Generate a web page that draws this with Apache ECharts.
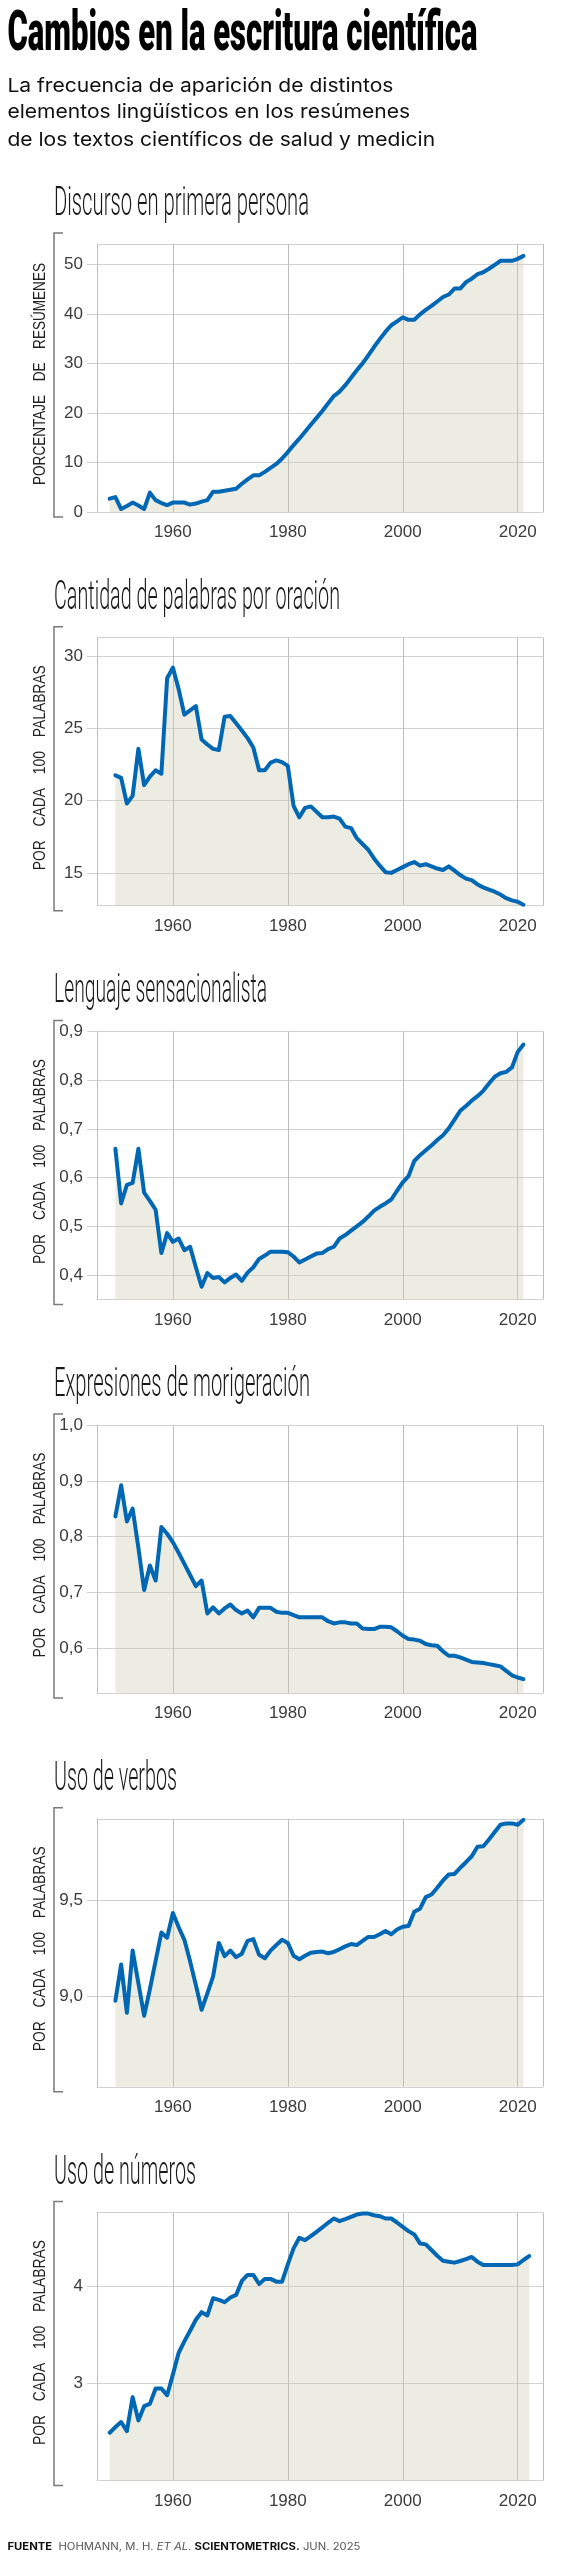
<!DOCTYPE html>
<html>
<head>
<meta charset="utf-8">
<script src="https://cdn.jsdelivr.net/npm/echarts@6.0.0/dist/echarts.min.js"></script>
<style>
html,body{margin:0;padding:0;background:#ffffff;}
#chart{width:579px;height:2560px;}
</style>
</head>
<body>
<div id="chart"></div>
<script>
// ---------- DATA ----------
const YEARS = [1949,1950,1951,1952,1953,1954,1955,1956,1957,1958,1959,
  1960,1961,1962,1963,1964,1965,1966,1967,1968,1969,
  1970,1971,1972,1973,1974,1975,1976,1977,1978,1979,
  1980,1981,1982,1983,1984,1985,1986,1987,1988,1989,
  1990,1991,1992,1993,1994,1995,1996,1997,1998,1999,
  2000,2001,2002,2003,2004,2005,2006,2007,2008,2009,
  2010,2011,2012,2013,2014,2015,2016,2017,2018,2019,
  2020,2021,2022];
const yearsFrom1949to2021 = YEARS.slice(0, 73);
const yearsFrom1950to2021 = YEARS.slice(1, 73);
const yearsFrom1949to2022 = YEARS.slice(0, 74);

const X_TICKS = ['1960','1980','2000','2020'];

// % of abstracts with first-person discourse (1949-2021)
const primeraPersona = [2.7,3.0,0.6,1.2,1.9,1.3,0.6,3.9,2.4,1.8,1.4,
  1.9,1.9,1.9,1.5,1.7,2.1,2.4,4.1,4.1,4.3,
  4.5,4.7,5.7,6.6,7.4,7.4,8.1,8.9,9.7,10.8,
  12.1,13.5,14.8,16.2,17.6,19.0,20.4,21.9,23.4,24.3,
  25.6,27.1,28.6,30.0,31.6,33.3,34.9,36.4,37.7,38.5,
  39.3,38.8,38.8,39.9,40.8,41.6,42.5,43.4,43.9,45.1,
  45.1,46.4,47.1,48.0,48.4,49.1,49.9,50.7,50.7,50.7,
  51.1,51.7];

// words per sentence (1950-2021)
const palabrasPorOracion = [21.75,21.57,19.8,20.33,23.58,21.07,21.66,22.1,21.86,28.46,
  29.2,27.72,25.95,26.24,26.54,24.23,23.88,23.58,23.5,25.8,
  25.86,25.35,24.85,24.32,23.67,22.1,22.1,22.63,22.78,22.66,
  22.4,19.64,18.85,19.5,19.6,19.23,18.85,18.85,18.9,18.75,
  18.2,18.1,17.4,17.0,16.6,16.0,15.5,15.05,15.0,15.2,
  15.4,15.6,15.75,15.5,15.6,15.45,15.3,15.2,15.45,15.15,
  14.85,14.6,14.5,14.2,14.0,13.85,13.7,13.5,13.25,13.1,
  13.0,12.8];

// sensationalist language per 100 words (1950-2021)
const sensacionalista = [0.659,0.547,0.585,0.589,0.659,0.569,0.552,0.534,0.445,0.486,
  0.468,0.475,0.451,0.458,0.416,0.376,0.404,0.394,0.396,0.385,
  0.394,0.401,0.388,0.405,0.416,0.433,0.44,0.448,0.448,0.448,
  0.447,0.438,0.426,0.432,0.438,0.444,0.445,0.453,0.458,0.475,
  0.482,0.491,0.5,0.509,0.52,0.532,0.54,0.547,0.555,0.573,
  0.59,0.603,0.634,0.646,0.656,0.666,0.677,0.687,0.701,0.719,
  0.737,0.747,0.758,0.767,0.778,0.793,0.807,0.814,0.817,0.826,
  0.858,0.873];

// hedging expressions per 100 words (1950-2021)
const morigeracion = [0.836,0.892,0.827,0.85,0.78,0.704,0.748,0.721,0.817,0.805,
  0.79,0.771,0.751,0.731,0.711,0.721,0.662,0.673,0.662,0.671,
  0.678,0.668,0.662,0.667,0.655,0.672,0.672,0.672,0.665,0.663,
  0.663,0.659,0.655,0.655,0.655,0.655,0.655,0.648,0.644,0.646,
  0.646,0.644,0.644,0.635,0.634,0.634,0.638,0.638,0.637,0.63,
  0.622,0.616,0.615,0.613,0.607,0.605,0.604,0.594,0.586,0.586,
  0.583,0.579,0.575,0.574,0.573,0.571,0.569,0.567,0.559,0.551,
  0.547,0.544];

// verbs per 100 words (1950-2021)
const verbos = [8.978,9.167,8.915,9.239,9.07,8.9,9.038,9.185,9.333,9.306,
  9.435,9.362,9.295,9.183,9.06,8.931,9.016,9.105,9.279,9.21,
  9.239,9.205,9.223,9.29,9.299,9.217,9.199,9.239,9.268,9.295,
  9.279,9.212,9.194,9.212,9.228,9.232,9.234,9.225,9.232,9.246,
  9.261,9.273,9.268,9.289,9.31,9.31,9.324,9.341,9.324,9.349,
  9.363,9.367,9.441,9.457,9.517,9.531,9.566,9.604,9.635,9.638,
  9.67,9.699,9.73,9.78,9.782,9.817,9.856,9.894,9.901,9.901,
  9.894,9.92];

// numbers per 100 words (1949-2022)
const numeros = [2.493,2.551,2.603,2.51,2.86,2.62,2.767,2.79,2.949,2.949,2.88,
  3.092,3.315,3.435,3.545,3.658,3.736,3.702,3.88,3.863,3.839,
  3.887,3.914,4.058,4.12,4.12,4.027,4.079,4.079,4.051,4.051,
  4.229,4.394,4.503,4.479,4.521,4.565,4.61,4.658,4.702,4.675,
  4.695,4.719,4.743,4.753,4.753,4.736,4.726,4.702,4.702,4.661,
  4.616,4.572,4.538,4.445,4.435,4.377,4.318,4.267,4.257,4.247,
  4.264,4.284,4.305,4.257,4.223,4.223,4.223,4.223,4.223,4.223,
  4.229,4.274,4.315];

const TITLE = 'Cambios en la escritura científica';
const SUBTITLE_LINES = ['La frecuencia de aparición de distintos',
  'elementos lingüísticos en los resúmenes',
  'de los textos científicos de salud y medicin'];
const PANEL_TITLES = ['Discurso en primera persona','Cantidad de palabras por oración',
  'Lenguaje sensacionalista','Expresiones de morigeración','Uso de verbos','Uso de números'];
const Y_NAMES = ['PORCENTAJE\u2003DE\u2003RESÚMENES','POR\u2003CADA\u2003100\u2003PALABRAS',
  'POR\u2003CADA\u2003100\u2003PALABRAS','POR\u2003CADA\u2003100\u2003PALABRAS',
  'POR\u2003CADA\u2003100\u2003PALABRAS','POR\u2003CADA\u2003100\u2003PALABRAS'];

// ---------- LAYOUT / STYLE ----------
const panels = [
  {years: yearsFrom1949to2021, values: primeraPersona, min: 0, max: 54.1, step: 10, dec: 0, showMin: true, showMax: false, titleW: 255, nameLen: 222},
  {years: yearsFrom1950to2021, values: palabrasPorOracion, min: 12.73, max: 31.27, step: 5, dec: 0, showMin: false, showMax: false, titleW: 286, nameLen: 205},
  {years: yearsFrom1950to2021, values: sensacionalista, min: 0.35, max: 0.9, step: 0.1, dec: 1, showMin: false, showMax: true, titleW: 213, nameLen: 205},
  {years: yearsFrom1950to2021, values: morigeracion, min: 0.519, max: 1.0, step: 0.1, dec: 1, showMin: false, showMax: true, titleW: 256, nameLen: 205},
  {years: yearsFrom1950to2021, values: verbos, min: 8.53, max: 9.925, step: 0.5, dec: 1, showMin: false, showMax: false, titleW: 123, nameLen: 205},
  {years: yearsFrom1949to2022, values: numeros, min: 2.0, max: 4.764, step: 1, dec: 0, showMin: false, showMax: false, titleW: 142, nameLen: 205}
];

const GRID_LEFT = 97, GRID_W = 446, PLOT_H = 268, TOP0 = 244, PANEL_STEP = 393.7;
const X_MIN = 1946.8, X_MAX = 2024.4;
const LINE_COLOR = '#0067b4';
const FILL_COLOR = 'rgba(205,202,175,0.36)';
const GRID_H_COLOR = '#d2d2d2';
const GRID_V_COLOR = '#bdbdbd';
const LABEL_FONT = 'Liberation Sans';

const mctx = document.createElement('canvas').getContext('2d');
function textW(font, text) { mctx.font = font; return mctx.measureText(text).width; }

const grids = [], xAxes = [], yAxes = [], series = [], graphics = [];

// main title
const titleFont = '900 55px Roboto';
graphics.push({type: 'text', x: 7.4, y: 36, scaleX: 470 / textW(titleFont, TITLE),
  style: {text: TITLE, font: titleFont, fill: '#000', align: 'left', verticalAlign: 'middle', textAlign: 'left', textVerticalAlign: 'middle'}});

// subtitle
const subFont = '400 19px Inter';
const subScale = 386 / textW(subFont, SUBTITLE_LINES[0]);
const subY = [86, 112.6, 140];
SUBTITLE_LINES.forEach((t, k) => {
  graphics.push({type: 'text', x: 7.4, y: subY[k], scaleX: subScale,
    style: {text: t, font: subFont, fill: '#111', align: 'left', verticalAlign: 'middle', textAlign: 'left', textVerticalAlign: 'middle'}});
});

const fmt = (dec) => (v) => dec ? v.toFixed(dec).replace('.', ',') : String(Math.round(v));

panels.forEach((p, i) => {
  const top = TOP0 + i * PANEL_STEP;
  grids.push({left: GRID_LEFT, top: top, width: GRID_W, height: PLOT_H, containLabel: false});
  xAxes.push({
    type: 'value', gridIndex: i, min: X_MIN, max: X_MAX, minInterval: 20, maxInterval: 20,
    axisLine: {show: true, lineStyle: {color: GRID_H_COLOR, width: 1}},
    axisTick: {show: false},
    splitLine: {show: true, lineStyle: {color: GRID_V_COLOR, width: 1}},
    axisLabel: {show: true, showMinLabel: false, showMaxLabel: false, color: '#3c3c3c', fontSize: 17,
      fontFamily: LABEL_FONT, margin: 12, formatter: (v) => {
        const s = String(Math.round(v)); return X_TICKS.indexOf(s) >= 0 ? s : ''; }}
  });
  yAxes.push({
    type: 'value', gridIndex: i, min: p.min, max: p.max, minInterval: p.step, maxInterval: p.step,
    axisLine: {show: true, lineStyle: {color: GRID_V_COLOR, width: 1}},
    axisTick: {show: true, inside: false, length: 10, lineStyle: {color: GRID_H_COLOR, width: 1}},
    splitLine: {show: true, lineStyle: {color: GRID_H_COLOR, width: 1}},
    axisLabel: {show: true, showMinLabel: p.showMin, showMaxLabel: p.showMax, color: '#3c3c3c',
      fontSize: 17, fontFamily: LABEL_FONT, margin: 14, formatter: fmt(p.dec)}
  });
  series.push({
    type: 'line', xAxisIndex: i, yAxisIndex: i,
    data: p.years.map((y, k) => [y, p.values[k]]),
    showSymbol: false, symbol: 'none', silent: true, clip: false,
    lineStyle: {color: LINE_COLOR, width: 4, cap: 'round', join: 'round'},
    areaStyle: {color: FILL_COLOR, origin: 'start', opacity: 1}
  });
  // panel title
  const ptFont = '300 40px Roboto';
  graphics.push({type: 'text', x: 54, y: top - 39, scaleX: p.titleW / textW(ptFont, PANEL_TITLES[i]),
    style: {text: PANEL_TITLES[i], font: ptFont, fill: '#1a1a1a', align: 'left', verticalAlign: 'middle', textAlign: 'left', textVerticalAlign: 'middle'}});
  // rotated axis name
  const nmFont = '16px "Liberation Sans"';
  graphics.push({type: 'text', x: 41, y: top + PLOT_H / 2 - 4, rotation: Math.PI / 2,
    scaleX: p.nameLen / textW(nmFont, Y_NAMES[i]),
    style: {text: Y_NAMES[i], font: nmFont, fill: '#222', align: 'center', verticalAlign: 'middle', textAlign: 'center', textVerticalAlign: 'middle'}});
  // bracket
  const bt = top - 11, bb = top + PLOT_H + 5;
  graphics.push({type: 'polyline', shape: {points: [[63, bt], [54, bt], [54, bb], [63, bb]]},
    style: {stroke: '#7a7a7a', lineWidth: 1.5, fill: null}});
});

// footer (source)
const fb = '700 10px Inter', fr = '400 10px Inter', fi = 'italic 400 10px Inter';
const footW = textW(fb, 'FUENTE') + textW(fr, '  HOHMANN, M. H. ') + textW(fi, 'ET AL') + textW(fr, '. ') +
  textW(fb, 'SCIENTOMETRICS.') + textW(fr, ' JUN. 2025');
graphics.push({type: 'text', x: 7.4, y: 2546.7, scaleX: 353 / footW,
  style: {text: '{b|FUENTE}{r|  HOHMANN, M. H. }{i|ET AL}{r|. }{b|SCIENTOMETRICS.}{r| JUN. 2025}',
    font: fr, fill: '#555', align: 'left', verticalAlign: 'middle', textAlign: 'left', textVerticalAlign: 'middle',
    rich: {
      b: {fontFamily: 'Inter', fontWeight: 700, fontSize: 10, fill: '#111', color: '#111'},
      r: {fontFamily: 'Inter', fontWeight: 400, fontSize: 10, fill: '#555', color: '#555'},
      i: {fontFamily: 'Inter', fontWeight: 400, fontStyle: 'italic', fontSize: 10, fill: '#555', color: '#555'}
    }}});

const chart = echarts.init(document.getElementById('chart'), null, {renderer: 'canvas', width: 579, height: 2560});
chart.setOption({
  animation: false,
  backgroundColor: '#ffffff',
  grid: grids, xAxis: xAxes, yAxis: yAxes, series: series,
  graphic: {elements: graphics}
});
</script>
</body>
</html>
